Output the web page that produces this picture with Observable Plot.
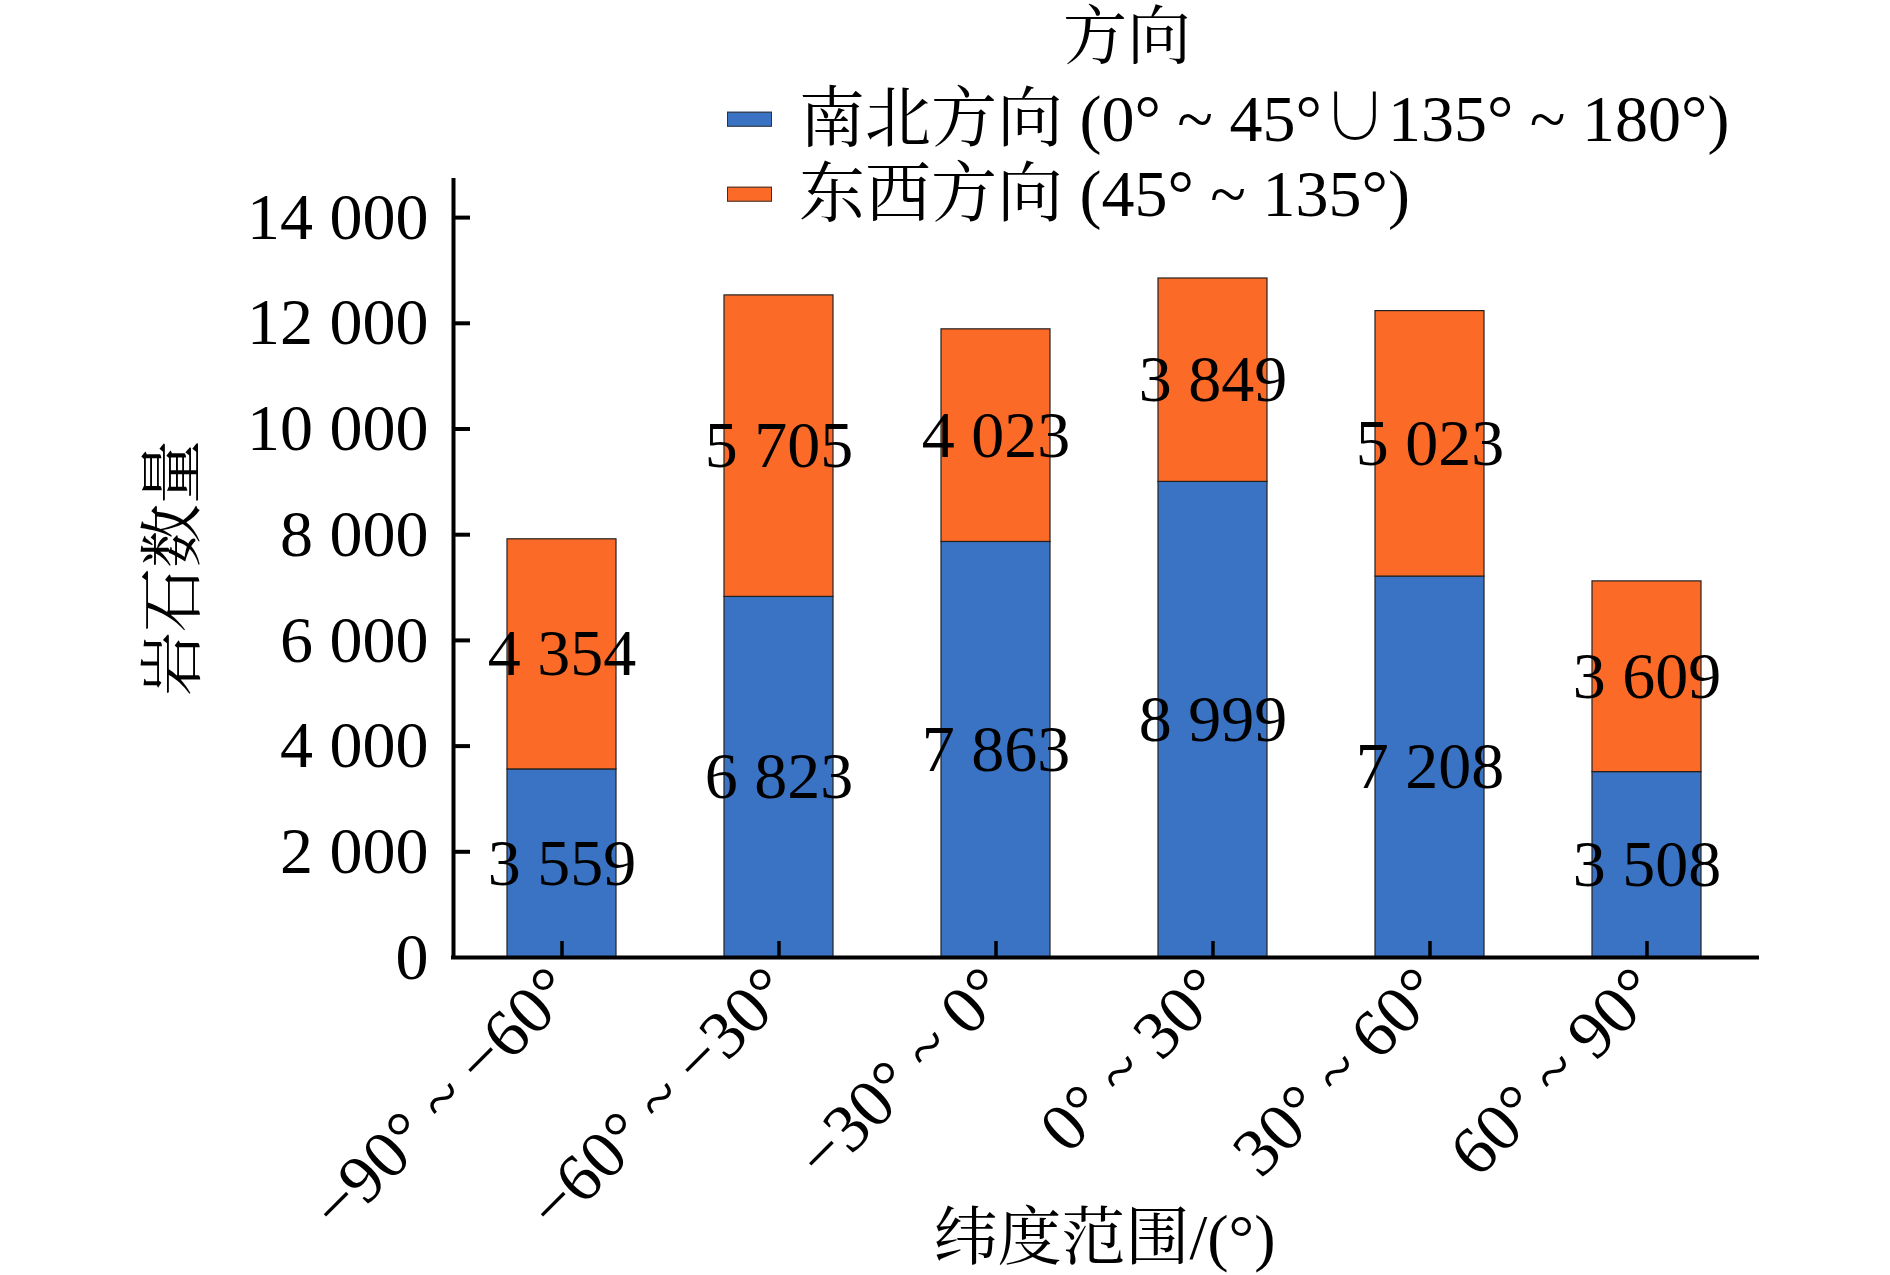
<!DOCTYPE html>
<html>
<head>
<meta charset="utf-8">
<script src="https://cdn.jsdelivr.net/npm/d3@7"></script>
<script src="https://cdn.jsdelivr.net/npm/@observablehq/plot@0.6"></script>
<style>
  body { margin: 0; background: #fff; }
  #wrap { position: relative; width: 1890px; height: 1275px; overflow: hidden;
          font-family: "Liberation Serif", "Noto Serif CJK SC", "Noto Sans CJK SC", serif; color: #000; }
  #legend { position: absolute; left: 0; top: 0; }
  .leg-title { position: absolute; left: 1127px; top: 37px; transform: translate(-50%, -50%);
               font-size: 64px; white-space: nowrap; line-height: 1.1; }
  .leg-row { position: absolute; left: 727px; display: flex; align-items: center; white-space: nowrap;
             transform: translateY(-50%); font-size: 66px; line-height: 1.1; }
  .leg-sw { width: 45px; height: 15px; box-sizing: border-box; border: 1px solid #333; margin-right: 27px; }
</style>
</head>
<body>
<div id="wrap"><div id="legend"></div></div>
<script>
// ---- data ----
const latitudeRanges = ["−90° ~ −60°", "−60° ~ −30°", "−30° ~ 0°", "0° ~ 30°", "30° ~ 60°", "60° ~ 90°"];
const seriesNames = ["南北方向 (0° ~ 45°∪135° ~ 180°)", "东西方向 (45° ~ 135°)"];
const northSouth = [3559, 6823, 7863, 8999, 7208, 3508];
const eastWest   = [4354, 5705, 4023, 3849, 5023, 3609];
const seriesColors = ["#3a73c3", "#fc6a27"];
const yTicks = [0, 2000, 4000, 6000, 8000, 10000, 12000, 14000];
const yMax = 14740;
const legendTitle = "方向";
const yTitle = ["岩石数量"];
const xTitle = ["纬度范围/(°)"];

// table built from the arrays
const rows = [];
latitudeRanges.forEach((r, i) => {
  rows.push({range: r, series: seriesNames[0], value: northSouth[i]});
  rows.push({range: r, series: seriesNames[1], value: eastWest[i]});
});

const fmt = d => d3.format(",")(d).replace(/,/g, " ");

const W = 1890, H = 1275, mL = 453, mR = 135, mT = 178, mB = 318;
const innerW = W - mL - mR, innerH = H - mT - mB;
const step = innerW / latitudeRanges.length;

const chart = Plot.plot({
  width: W, height: H,
  marginLeft: mL, marginRight: mR, marginTop: mT, marginBottom: mB,
  style: {fontFamily: '"Liberation Serif", "Noto Serif CJK SC", "Noto Sans CJK SC", serif', fontSize: "66px", color: "#000", background: "#fff", overflow: "visible"},
  x: {domain: latitudeRanges, paddingInner: 0.5, paddingOuter: 0.25, label: null},
  y: {domain: [0, yMax], label: null},
  color: {domain: seriesNames, range: seriesColors},
  marks: [
    Plot.barY(rows, Plot.stackY({x: "range", y: "value", fill: "series", stroke: "#222", strokeWidth: 1.2})),
    Plot.text(rows, Plot.stackY({x: "range", y: "value", z: "series", text: d => fmt(d.value), fontSize: 66, fill: "#000"})),
    Plot.tickY(yTicks.filter(d => d > 0), {y: d => d, insetRight: innerW - 17, strokeWidth: 4}),
    Plot.tickX(latitudeRanges, {x: d => d, insetTop: innerH - 16, strokeWidth: 3.5}),
    Plot.tickX([latitudeRanges[0]], {x: d => d, dx: -step / 2, strokeWidth: 4}),
    Plot.axisY({ticks: yTicks, tickFormat: fmt, tickSize: 0, tickPadding: 25, fontSize: 66, label: null}),
    Plot.axisX({tickRotate: -45, tickSize: 0, tickPadding: 22, fontSize: 68, label: null}),
    Plot.ruleY([0], {strokeWidth: 4, insetLeft: -2, insetRight: -4}),
    Plot.text(yTitle, {text: d => d, frameAnchor: "left", textAnchor: "middle", lineAnchor: "middle", dx: -280, rotate: -90, fontSize: 64}),
    Plot.text(xTitle, {text: d => d, frameAnchor: "bottom", textAnchor: "middle", lineAnchor: "middle", dy: 281, fontSize: 64})
  ]
});
document.getElementById("wrap").prepend(chart);

// legend
const leg = document.getElementById("legend");
const t = document.createElement("div");
t.className = "leg-title"; t.textContent = legendTitle; leg.appendChild(t);
const rowY = [119, 194];
seriesNames.forEach((s, i) => {
  const r = document.createElement("div");
  r.className = "leg-row"; r.style.top = rowY[i] + "px";
  const sw = document.createElement("div");
  sw.className = "leg-sw"; sw.style.background = seriesColors[i];
  const tx = document.createElement("span"); tx.textContent = s;
  r.appendChild(sw); r.appendChild(tx); leg.appendChild(r);
});
</script>
</body>
</html>
